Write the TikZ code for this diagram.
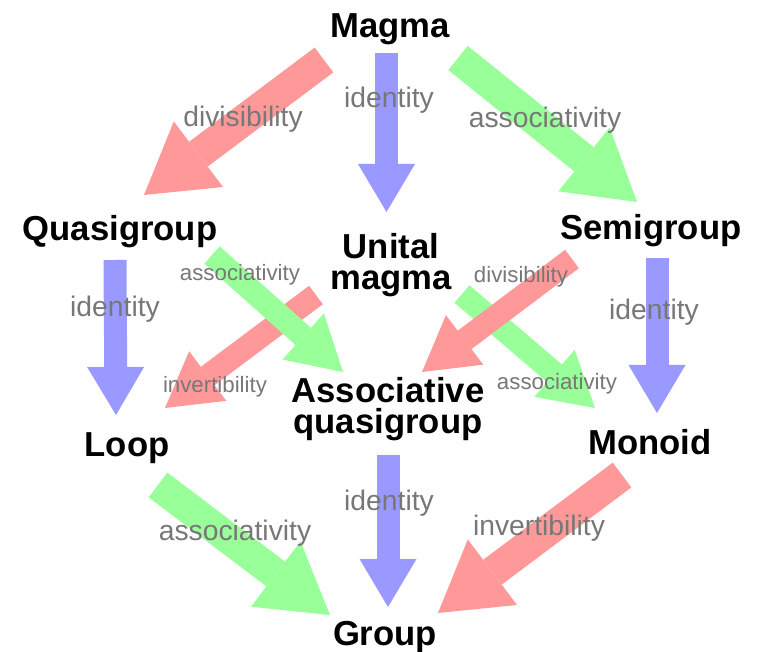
\documentclass[tikz,border=0pt]{standalone}
\usepackage{fontspec}
\setmainfont{Liberation Sans}
\usetikzlibrary{arrows.meta,calc}

\definecolor{invred}{RGB}{255,153,153}
\definecolor{assocgreen}{RGB}{153,255,153}
\definecolor{identblue}{RGB}{153,153,255}
\definecolor{labelgray}{RGB}{119,119,119}

\tikzset{
  structure/.style={font=\bfseries\fontsize{26}{23.5}\selectfont, inner sep=0pt, anchor=base, align=center},
  property/.style={text=labelgray, font=\fontsize{21.2}{24}\selectfont, inner sep=0pt, anchor=base},
  smallprop/.style={property, font=\fontsize{16.7}{20}\selectfont},
  vertarrow/.style={line width=17.25pt, -{Triangle[width=42.75pt,length=36pt,line width=0pt]}},
  midarrow/.style={line width=17.25pt, -{Triangle[width=46.5pt,length=40pt,line width=0pt]}},
  bigarrow/.style={line width=23.25pt, -{Triangle[width=61.5pt,length=51pt,line width=0pt]}},
}

\begin{document}
\begin{tikzpicture}[x=0.75pt,y=0.75pt,yscale=-1,xscale=1]
\useasboundingbox (0,0) rectangle (761,652);

% Text Node
\node[structure] (magma) at (390,38) {Magma};
% Text Node
\node[structure] (quasi) at (120,241) {Quasigroup};
% Text Node
\node[structure] (semi) at (651,240) {Semigroup};
% Text Node (base is the last line)
\node[structure] (unital) at (391,290) {Unital\\magma};
% Text Node
\node[structure] (loop) at (127,456) {Loop};
% Text Node (base is the last line)
\node[structure] (assoc) at (388,434) {Associative\\quasigroup};
% Text Node
\node[structure] (monoid) at (650,455) {Monoid};
% Text Node
\node[structure] (group) at (385,645) {Group};

%Straight Lines
\draw[bigarrow, invred] ($(magma.base)+(-66,22)$) -- ($(quasi.base)+(24,-46)$);
\draw[vertarrow, identblue] ($(magma.base)+(-3.5,15)$) -- ($(unital.base)+(-4.5,-78)$);
\draw[bigarrow, assocgreen] ($(magma.base)+(68,20)$) -- ($(semi.base)+(-14,-38)$);
%Straight Lines
\draw[vertarrow, identblue] ($(quasi.base)+(-5,19)$) -- ($(loop.base)+(-11,-41)$);
\draw[vertarrow, identblue] ($(semi.base)+(6,18)$) -- ($(monoid.base)+(7,-42)$);
%Straight Lines
\draw[midarrow, invred] ($(unital.base)+(-75,5)$) -- ($(loop.base)+(38,-48)$);
\draw[midarrow, assocgreen] ($(quasi.base)+(92,14)$) -- ($(assoc.base)+(-45,-62)$);
\draw[midarrow, assocgreen] ($(unital.base)+(71,4)$) -- ($(monoid.base)+(-55,-47)$);
\draw[midarrow, invred] ($(semi.base)+(-79,19)$) -- ($(assoc.base)+(34,-62)$);
%Straight Lines
\draw[vertarrow, identblue] ($(assoc.base)+(0,21)$) -- ($(group.base)+(3,-38)$);
\draw[bigarrow, assocgreen] ($(loop.base)+(31,29)$) -- ($(group.base)+(-55,-30)$);
\draw[bigarrow, invred] ($(monoid.base)+(-28,20)$) -- ($(group.base)+(53,-32)$);

% Text Node
\node[property] (idtop) at (389,108) {identity};
\node[property] (divtop) at (243,127) {divisibility};
\node[property] (asstop) at (545,128) {associativity};
% Text Node
\node[smallprop] (assquasi) at (240,281) {associativity};
\node[smallprop] (divsemi) at (521,283) {divisibility};
\node[property] (idleft) at (115,317) {identity};
\node[property] (idright) at (654,320) {identity};
\node[smallprop] (invunital) at (215,393) {invertibility};
\node[smallprop] (assunital) at (557,390) {associativity};
% Text Node
\node[property] (idbottom) at (389,510) {identity};
\node[property] (assloop) at (235,540) {associativity};
\node[property] (invmonoid) at (539,535) {invertibility};

\end{tikzpicture}
\end{document}
